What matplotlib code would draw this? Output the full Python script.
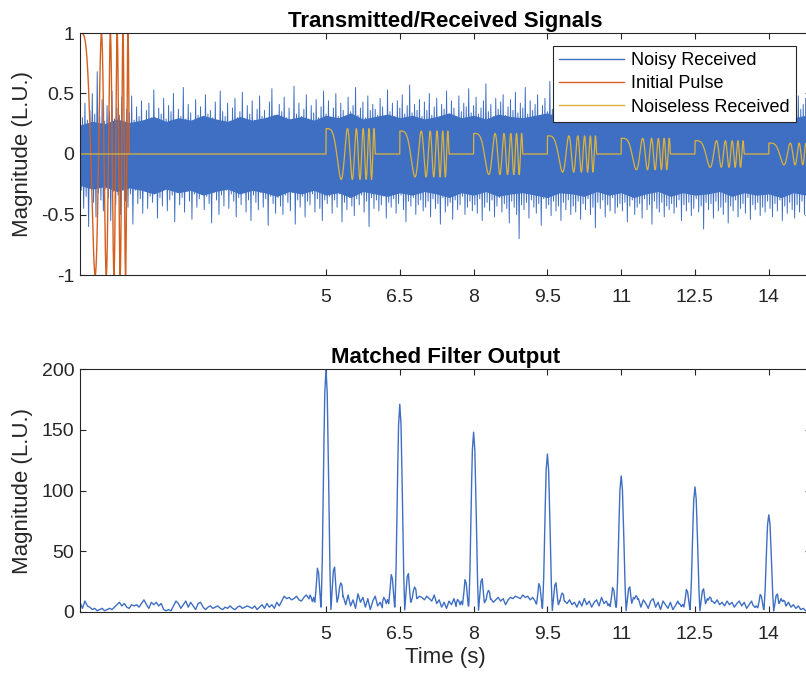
import numpy as np
import matplotlib.pyplot as plt

plt.rcParams['font.family'] = ['Liberation Sans', 'DejaVu Sans']

# ---- transmitted / received ----
# chirp pulse (0 -> ~10.5 Hz in 1 s)
pulse_len = 1.0
chirp_f0 = 0.0
chirp_f1 = 10.5
pulse_amp = 1.0

echo_times = [5, 6.5, 8, 9.5, 11, 12.5, 14]
echo_amps = [0.21, 0.19, 0.17, 0.15, 0.13, 0.11, 0.09]

# noisy received: top / bottom extremes of the trace every 0.05 s
noise_step = 0.05
noise_hi = [0.55, 0.30, 0.42, 0.28, 0.36, 0.50, 0.33, 0.68, 0.31, 0.45, 0.27, 0.40, 0.35, 0.52, 0.29, 0.38, 0.32, 0.47, 0.26, 0.37,
            0.34, 0.48, 0.28, 0.39, 0.31, 0.44, 0.25, 0.36, 0.42, 0.30, 0.53, 0.27, 0.38, 0.33, 0.46, 0.29, 0.40, 0.35, 0.50, 0.28,
            0.37, 0.31, 0.55, 0.29, 0.41, 0.34, 0.27, 0.45, 0.32, 0.39, 0.26, 0.49, 0.33, 0.36, 0.30, 0.43, 0.28, 0.52, 0.35, 0.31,
            0.42, 0.27, 0.38, 0.46, 0.30, 0.35, 0.51, 0.29, 0.40, 0.33, 0.44, 0.28, 0.37, 0.48, 0.31, 0.36, 0.27, 0.43, 0.54, 0.32,
            0.29, 0.41, 0.35, 0.47, 0.30, 0.38, 0.28, 0.56, 0.33, 0.42, 0.31, 0.37, 0.49, 0.29, 0.40, 0.34, 0.45, 0.30, 0.39, 0.52,
            0.33, 0.44, 0.30, 0.38, 0.50, 0.31, 0.42, 0.36, 0.29, 0.47, 0.35, 0.40, 0.55, 0.32, 0.38, 0.43, 0.30, 0.48, 0.36, 0.41,
            0.37, 0.32, 0.46, 0.39, 0.30, 0.53, 0.35, 0.42, 0.31, 0.44, 0.38, 0.49, 0.33, 0.40, 0.57, 0.34, 0.41, 0.36, 0.45, 0.31,
            0.43, 0.36, 0.50, 0.32, 0.39, 0.46, 0.30, 0.41, 0.37, 0.52, 0.33, 0.44, 0.38, 0.31, 0.48, 0.35, 0.42, 0.39, 0.54, 0.34,
            0.40, 0.47, 0.33, 0.38, 0.44, 0.58, 0.35, 0.41, 0.31, 0.46, 0.37, 0.43, 0.49, 0.32, 0.39, 0.45, 0.36, 0.51, 0.34, 0.42,
            0.38, 0.55, 0.33, 0.44, 0.36, 0.41, 0.49, 0.32, 0.40, 0.46, 0.35, 0.60, 0.37, 0.43, 0.31, 0.47, 0.39, 0.42, 0.36, 0.50,
            0.41, 0.35, 0.46, 0.38, 0.52, 0.33, 0.40, 0.44, 0.36, 0.48, 0.31, 0.43, 0.39, 0.55, 0.34, 0.42, 0.37, 0.47, 0.33, 0.45,
            0.39, 0.50, 0.34, 0.43, 0.37, 0.46, 0.32, 0.53, 0.40, 0.36, 0.44, 0.31, 0.48, 0.38, 0.42, 0.35, 0.51, 0.37, 0.45, 0.33,
            0.47, 0.36, 0.42, 0.54, 0.34, 0.40, 0.38, 0.49, 0.33, 0.44, 0.37, 0.41, 0.52, 0.35, 0.43, 0.39, 0.47, 0.32, 0.40, 0.45,
            0.36, 0.48, 0.41, 0.34, 0.50, 0.38, 0.44, 0.33, 0.46, 0.40, 0.55, 0.35, 0.42, 0.37, 0.49, 0.34, 0.43, 0.39, 0.52, 0.36,
            0.44, 0.38, 0.47, 0.35, 0.53, 0.40, 0.36, 0.45, 0.39, 0.50, 0.34, 0.42, 0.48, 0.37, 0.41, 0.46, 0.38]
noise_lo = [-0.30, -0.45, -0.35, -0.60, -0.28, -0.40, -0.52, -0.32, -0.38, -0.47, -0.29, -0.36, -0.55, -0.31, -0.42, -0.34, -0.50, -0.27, -0.39, -0.44,
            -0.33, -0.58, -0.30, -0.41, -0.37, -0.49, -0.28, -0.45, -0.35, -0.40, -0.31, -0.53, -0.36, -0.43, -0.29, -0.47, -0.38, -0.34, -0.56, -0.32,
            -0.42, -0.36, -0.48, -0.31, -0.39, -0.54, -0.33, -0.44, -0.37, -0.29, -0.46, -0.35, -0.41, -0.57, -0.32, -0.38, -0.50, -0.34, -0.43, -0.30,
            -0.45, -0.33, -0.39, -0.52, -0.36, -0.42, -0.31, -0.48, -0.38, -0.55, -0.34, -0.40, -0.46, -0.32, -0.44, -0.37, -0.59, -0.35, -0.41, -0.49,
            -0.36, -0.43, -0.50, -0.34, -0.40, -0.47, -0.32, -0.58, -0.38, -0.44, -0.35, -0.52, -0.39, -0.42, -0.33, -0.48, -0.37, -0.45, -0.55, -0.38,
            -0.41, -0.35, -0.49, -0.38, -0.44, -0.33, -0.56, -0.40, -0.46, -0.36, -0.43, -0.51, -0.37, -0.42, -0.34, -0.48, -0.39, -0.60, -0.36, -0.45,
            -0.38, -0.47, -0.42, -0.35, -0.53, -0.40, -0.44, -0.37, -0.49, -0.41, -0.34, -0.46, -0.56, -0.39, -0.43, -0.36, -0.50, -0.42, -0.38, -0.47,
            -0.44, -0.39, -0.52, -0.37, -0.45, -0.41, -0.58, -0.36, -0.48, -0.43, -0.40, -0.54, -0.38, -0.46, -0.42, -0.35, -0.50, -0.44, -0.39, -0.47,
            -0.42, -0.49, -0.37, -0.55, -0.44, -0.40, -0.47, -0.38, -0.52, -0.43, -0.36, -0.48, -0.41, -0.45, -0.57, -0.39, -0.44, -0.50, -0.70, -0.42,
            -0.46, -0.40, -0.53, -0.38, -0.44, -0.49, -0.41, -0.59, -0.37, -0.45, -0.42, -0.51, -0.39, -0.47, -0.43, -0.55, -0.40, -0.46, -0.38, -0.50,
            -0.43, -0.48, -0.39, -0.54, -0.41, -0.46, -0.37, -0.50, -0.44, -0.61, -0.40, -0.45, -0.38, -0.52, -0.42, -0.47, -0.36, -0.49, -0.44, -0.41,
            -0.47, -0.40, -0.56, -0.43, -0.38, -0.50, -0.44, -0.41, -0.53, -0.37, -0.46, -0.42, -0.58, -0.39, -0.45, -0.48, -0.40, -0.52, -0.43, -0.46,
            -0.41, -0.49, -0.44, -0.38, -0.55, -0.42, -0.47, -0.40, -0.51, -0.45, -0.37, -0.48, -0.43, -0.62, -0.40, -0.46, -0.41, -0.53, -0.39, -0.47,
            -0.44, -0.50, -0.40, -0.57, -0.43, -0.47, -0.38, -0.52, -0.45, -0.41, -0.49, -0.36, -0.54, -0.42, -0.46, -0.40, -0.51, -0.44, -0.48, -0.39,
            -0.45, -0.52, -0.41, -0.47, -0.38, -0.55, -0.43, -0.49, -0.40, -0.46, -0.53, -0.42, -0.48, -0.39, -0.50, -0.44, -0.47]
# dense part of the band, every 0.25 s
core_step = 0.25
core_hi = [0.24, 0.27, 0.25, 0.29, 0.26, 0.28, 0.31, 0.27, 0.30, 0.28, 0.32, 0.29, 0.27, 0.31, 0.28, 0.30, 0.33, 0.29, 0.31, 0.28,
           0.32, 0.30, 0.34, 0.29, 0.31, 0.33, 0.30, 0.32, 0.29, 0.31, 0.34, 0.30, 0.32, 0.29, 0.33, 0.31, 0.30, 0.32, 0.34, 0.30,
           0.31, 0.33, 0.29, 0.32, 0.30, 0.34, 0.31, 0.29, 0.33, 0.30, 0.32, 0.31, 0.29, 0.33, 0.30, 0.32, 0.31, 0.34, 0.30, 0.32, 0.31]
core_lo = [-0.26, -0.29, -0.27, -0.31, -0.28, -0.30, -0.33, -0.29, -0.32, -0.30, -0.34, -0.31, -0.29, -0.33, -0.30, -0.32, -0.35, -0.31, -0.33, -0.30,
           -0.34, -0.32, -0.36, -0.31, -0.33, -0.35, -0.32, -0.34, -0.31, -0.33, -0.36, -0.32, -0.34, -0.31, -0.35, -0.33, -0.32, -0.34, -0.36, -0.32,
           -0.33, -0.35, -0.31, -0.34, -0.32, -0.36, -0.33, -0.31, -0.35, -0.32, -0.34, -0.33, -0.31, -0.35, -0.32, -0.34, -0.33, -0.36, -0.32, -0.34, -0.33]

# ---- matched filter ----
peak_heights = [200, 171, 148, 130, 112, 103, 80]
# shape of a peak relative to its height, offsets -0.35..0.35 s every 0.025 s
lobe_offsets = [-0.35, -0.325, -0.3, -0.275, -0.25, -0.225, -0.2, -0.175, -0.15, -0.125, -0.1, -0.075, -0.05, -0.025, 0,
                0.025, 0.05, 0.075, 0.1, 0.125, 0.15, 0.175, 0.2, 0.225, 0.25, 0.275, 0.3, 0.325, 0.35]
lobe_shape = [0.05, 0.07, 0.06, 0.04, 0.06, 0.04, 0.10, 0.18, 0.16, 0.08, 0.01, 0.22, 0.60, 0.90, 1.0,
              0.90, 0.60, 0.22, 0.01, 0.09, 0.17, 0.185, 0.10, 0.04, 0.06, 0.10, 0.12, 0.11, 0.05]
# noise floor every 0.05 s from 0 to 14.8 s
mf_step = 0.05
mf_floor = [8, 3, 9, 5, 4, 2, 3, 1, 2, 3,
            1, 2, 3, 2, 4, 6, 8, 5, 7, 4,
            3, 6, 5, 6, 4, 7, 10, 6, 3, 8,
            6, 8, 5, 7, 2, 1, 2, 1, 5, 9,
            7, 3, 6, 9, 4, 8, 5, 2, 7, 8,
            4, 2, 4, 5, 3, 4, 5, 3, 2, 4,
            3, 5, 3, 2, 4, 5, 3, 4, 5, 4,
            3, 5, 2, 4, 6, 3, 7, 4, 6, 3,
            8, 5, 9, 13, 11, 12, 10, 11, 13, 10,
            9, 12, 14, 11, 9, 8, 6, 5, 4, 3,
            # 5.0
            0, 0, 0, 0, 0, 0, 4, 13, 6, 14, 5, 10, 3, 15, 8,
            12, 4, 11, 2, 9, 13, 5, 8, 3, 6, 2, 5, 3, 4, 2,
            # 6.5
            0, 0, 0, 0, 5, 11, 12, 11, 13, 12, 10, 13, 11, 9, 14,
            7, 10, 4, 8, 3, 9, 6, 11, 4, 6, 2, 8, 3, 5, 2,
            # 8.0
            0, 0, 0, 0, 6, 10, 7, 11, 8, 10, 12, 9, 11, 6, 10,
            12, 11, 13, 12, 11, 14, 12, 13, 10, 12, 9, 4, 2, 3, 2,
            # 9.5
            0, 0, 0, 0, 3, 9, 8, 9, 7, 10, 6, 8, 4, 9, 5,
            11, 6, 9, 4, 8, 10, 5, 12, 7, 9, 3, 6, 2, 4, 2,
            # 11.0
            0, 0, 0, 0, 5, 12, 9, 11, 4, 10, 7, 3, 9, 11, 4,
            8, 2, 9, 6, 3, 8, 2, 5, 9, 3, 6, 2, 4, 2, 3,
            # 12.5
            0, 0, 0, 0, 5, 11, 8, 9, 7, 10, 6, 8, 5, 9, 6,
            8, 4, 7, 9, 5, 8, 3, 6, 9, 3, 5, 2, 4, 2, 3,
            # 14.0
            0, 0, 0, 0, 6, 11, 7, 5, 8, 4, 6, 3, 5, 2, 3, 1, 2]

xticks = [5, 6.5, 8, 9.5, 11, 12.5, 14]
xticklabels = ['5', '6.5', '8', '9.5', '11', '12.5', '14']
t_end = 14.85

blue = '#3f6fc2'
orange = '#d3601f'
yellow = '#dcb238'
dark = '#262626'


def chirp(t, amp):
    k = (chirp_f1 - chirp_f0) / pulse_len
    return amp * np.cos(2 * np.pi * (chirp_f0 * t + 0.5 * k * t ** 2))


# signals
t = np.arange(0, t_end, 0.001)
clean = np.zeros_like(t)
for t0, a in zip(echo_times, echo_amps):
    m = (t >= t0) & (t < t0 + pulse_len)
    clean[m] = chirp(t[m] - t0, a)
t_pulse = np.linspace(0, pulse_len, 1001)
pulse = chirp(t_pulse, pulse_amp)

t_n = np.arange(len(noise_hi)) * noise_step
zig_t = np.column_stack([t_n, t_n + noise_step / 2]).ravel()
zig_y = np.column_stack([noise_hi, noise_lo]).ravel()
t_core = np.arange(len(core_hi)) * core_step

# matched filter: noise floor with the compressed pulses on top
t_mf = np.arange(len(mf_floor)) * mf_step
t_f = np.arange(0, t_mf[-1] + 1e-9, 0.005)
mf = np.interp(t_f, t_mf, mf_floor)
for t0, h in zip(echo_times, peak_heights):
    lobe = h * np.interp(t_f - t0, lobe_offsets, lobe_shape, left=0, right=0)
    mf = np.maximum(mf, lobe)

fig = plt.figure(figsize=(8.06, 6.74), dpi=100)
ax_w = (t_end * 49.2) / 806
ax1 = fig.add_axes([80 / 806, 1 - 275 / 674, ax_w, 242 / 674])
ax2 = fig.add_axes([80 / 806, 1 - 612 / 674, ax_w, 243 / 674])

ax1.fill_between(t_core, core_lo, core_hi, color=blue, lw=0)
ax1.plot(zig_t, zig_y, color=blue, lw=0.7, label='Noisy Received')
ax1.plot(t_pulse, pulse, color=orange, lw=1.0, label='Initial Pulse')
ax1.plot(t, clean, color=yellow, lw=0.9, label='Noiseless Received')
ax1.set_ylim(-1, 1)
ax1.set_yticks([-1, -0.5, 0, 0.5, 1])
ax1.set_yticklabels(['-1', '-0.5', '0', '0.5', '1'])
ax1.set_title('Transmitted/Received Signals', fontsize=16, fontweight='bold', pad=4)
leg = ax1.legend(loc='upper right', bbox_to_anchor=(796 / 806, 1 - 46 / 674),
                 bbox_transform=fig.transFigure, borderaxespad=0, fontsize=13,
                 handlelength=3.6, handletextpad=0.4, labelspacing=0.34,
                 fancybox=False, framealpha=1, edgecolor=dark, borderpad=0.35)
leg.get_frame().set_linewidth(0.8)
for h in leg.get_lines():
    h.set_linewidth(1.0)

ax2.plot(t_f, mf, color=blue, lw=1.0)
ax2.set_ylim(0, 200)
ax2.set_yticks([0, 50, 100, 150, 200])
ax2.set_xlabel('Time (s)', fontsize=16, color=dark)
ax2.xaxis.set_label_coords(0.5, -0.145)
ax2.set_title('Matched Filter Output', fontsize=16, fontweight='bold', pad=4)

for ax in (ax1, ax2):
    ax.set_xlim(0, t_end)
    ax.set_xticks(xticks)
    ax.set_xticklabels(xticklabels)
    ax.set_ylabel('Magnitude (L.U.)', fontsize=16, color=dark)
    ax.yaxis.set_label_coords(-0.064, 0.5)
    ax.tick_params(direction='in', top=True, right=True, length=4,
                   width=0.8, color=dark, labelcolor=dark, labelsize=14)
    ax.tick_params(axis='x', pad=10)
    ax.tick_params(axis='y', pad=4)
    for sp in ax.spines.values():
        sp.set_color(dark)
        sp.set_linewidth(0.8)

fig.savefig('out.png', dpi=100)
